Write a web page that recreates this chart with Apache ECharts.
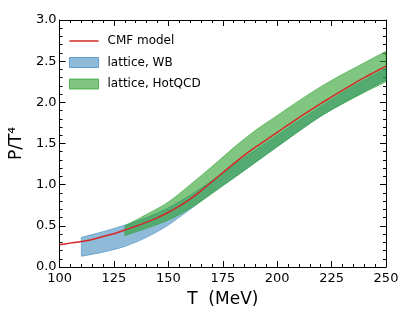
<!DOCTYPE html>
<html><head><meta charset="utf-8">
<script src="https://cdn.jsdelivr.net/npm/echarts@6/dist/echarts.min.js"></script>
<style>html,body{margin:0;padding:0;background:#fff}#c{width:407px;height:326px}</style>
</head><body><div id="c"></div>
<script>
const cmfT = [100,105,110,115,120,125,130,135,140,145,150,155,160,165,170,175,180,185,190,195,200,205,210,215,220,225,230,235,240,245,250];
const cmfP = [0.27,0.29,0.31,0.335,0.37,0.405,0.45,0.495,0.545,0.60,0.665,0.74,0.825,0.925,1.035,1.145,1.255,1.36,1.455,1.545,1.635,1.725,1.815,1.90,1.985,2.065,2.145,2.225,2.30,2.37,2.44];

const wbT  = [110,120,130,140,150,160,170,180,190,200,210,220,230,240,250];
const wbLo = [0.13,0.18,0.25,0.36,0.51,0.70,0.90,1.08,1.27,1.46,1.65,1.83,1.99,2.13,2.27];
const wbHi = [0.36,0.43,0.51,0.60,0.72,0.87,1.05,1.24,1.42,1.60,1.78,1.95,2.12,2.27,2.41];

const hqT  = [130,140,150,160,170,180,190,200,210,220,230,240,250];
const hqLo = [0.38,0.47,0.57,0.71,0.89,1.08,1.27,1.46,1.65,1.83,1.98,2.12,2.25];
const hqHi = [0.50,0.64,0.79,1.00,1.22,1.45,1.66,1.84,2.02,2.19,2.34,2.48,2.62];

const xTicks = [100,125,150,175,200,225,250];
const yTicks = [0.0,0.5,1.0,1.5,2.0,2.5,3.0];

const RED = '#d62728';
const FONT = 'DejaVu Sans';

// Catmull-Rom curve through screen points (points come from api.coord)
function curve(pts, startCmd){
  let d = startCmd + pts[0][0].toFixed(2) + ',' + pts[0][1].toFixed(2);
  for (let i=0;i<pts.length-1;i++){
    const p0 = pts[Math.max(i-1,0)], p1 = pts[i], p2 = pts[i+1], p3 = pts[Math.min(i+2,pts.length-1)];
    const c1 = [p1[0]+(p2[0]-p0[0])/6, p1[1]+(p2[1]-p0[1])/6];
    const c2 = [p2[0]-(p3[0]-p1[0])/6, p2[1]-(p3[1]-p1[1])/6];
    d += ' C'+c1[0].toFixed(2)+','+c1[1].toFixed(2)+' '+c2[0].toFixed(2)+','+c2[1].toFixed(2)+' '+p2[0].toFixed(2)+','+p2[1].toFixed(2);
  }
  return d;
}

function bandSeries(name, xs, lo, hi, fill, stroke){
  return {
    type:'custom', name:name, silent:true, z:2,
    data:[[xs[0], lo[0]]],
    itemStyle:{color:fill},
    renderItem:function(params, api){
      const up = xs.map((x,i)=>api.coord([x, hi[i]]));
      const dn = xs.map((x,i)=>api.coord([x, lo[i]])).reverse();
      const d = curve(up,'M') + ' ' + curve(dn,'L') + ' Z';
      return {type:'path', shape:{pathData:d}, style:{fill:fill, stroke:stroke, lineWidth:0.8}};
    }
  };
}

function lineSeries(name, xs, ys, color){
  return {
    type:'custom', name:name, silent:true, z:5,
    data:[[xs[0], ys[0]]],
    itemStyle:{color:color},
    renderItem:function(params, api){
      const pts = xs.map((x,i)=>api.coord([x, ys[i]]));
      return {type:'path', shape:{pathData:curve(pts,'M')}, style:{fill:null, stroke:color, lineWidth:1.5}};
    }
  };
}

const axisCommon = {
  axisLine:{show:true, onZero:false, lineStyle:{color:'#000', width:1}},
  axisTick:{show:true, inside:true, length:6, lineStyle:{color:'#000', width:1}},
  minorTick:{show:true, splitNumber:5, length:3, lineStyle:{color:'#000', width:1}},
  splitLine:{show:false}
};

const chart = echarts.init(document.getElementById('c'), null, {renderer:'canvas'});
chart.setOption({
  animation:false,
  backgroundColor:'#fff',
  grid:{left:53, right:21, top:20, bottom:59},
  legend:{
    orient:'vertical', left:64, top:30, itemWidth:29, itemHeight:10, itemGap:9.5,
    textStyle:{fontFamily:FONT, fontSize:12, color:'#000', padding:[0,0,0,4]},
    data:[
      {name:'CMF model', icon:'path://M0,0 L29,0 L29,1.5 L0,1.5 Z', itemStyle:{color:RED}},
      {name:'lattice, WB', icon:'rect', itemStyle:{color:'rgba(31,119,180,0.5)', borderColor:'rgba(31,119,180,0.6)', borderWidth:1}},
      {name:'lattice, HotQCD', icon:'rect', itemStyle:{color:'rgba(44,160,44,0.6)', borderColor:'rgba(44,160,44,0.7)', borderWidth:1}}
    ]
  },
  xAxis:[
    Object.assign({type:'value', min:100, max:250, interval:25, position:'bottom',
      name:'T  (MeV)', nameLocation:'middle', nameGap:24,
      nameTextStyle:{fontFamily:FONT, fontSize:17, color:'#000'},
      axisLabel:{fontFamily:FONT, fontSize:13, color:'#000', margin:5,
        formatter:v=> xTicks.includes(v) ? String(v) : ''}}, axisCommon),
    Object.assign({type:'value', min:100, max:250, interval:25, position:'top',
      axisLabel:{show:false}}, axisCommon)
  ],
  yAxis:[
    Object.assign({type:'value', min:0, max:3, interval:0.5, position:'left',
      name:'P/T⁴', nameLocation:'middle', nameGap:32, nameRotate:90,
      nameTextStyle:{fontFamily:FONT, fontSize:17, color:'#000'},
      axisLabel:{fontFamily:FONT, fontSize:13, color:'#000', margin:3,
        formatter:v=> yTicks.some(t=>Math.abs(t-v)<1e-9) ? v.toFixed(1) : ''}}, axisCommon),
    Object.assign({type:'value', min:0, max:3, interval:0.5, position:'right',
      axisLabel:{show:false}}, axisCommon)
  ],
  series:[
    bandSeries('lattice, WB', wbT, wbLo, wbHi, 'rgba(31,119,180,0.5)', 'rgba(31,119,180,0.55)'),
    bandSeries('lattice, HotQCD', hqT, hqLo, hqHi, 'rgba(44,160,44,0.6)', 'rgba(44,160,44,0.65)'),
    lineSeries('CMF model', cmfT, cmfP, RED)
  ]
});
</script></body></html>
